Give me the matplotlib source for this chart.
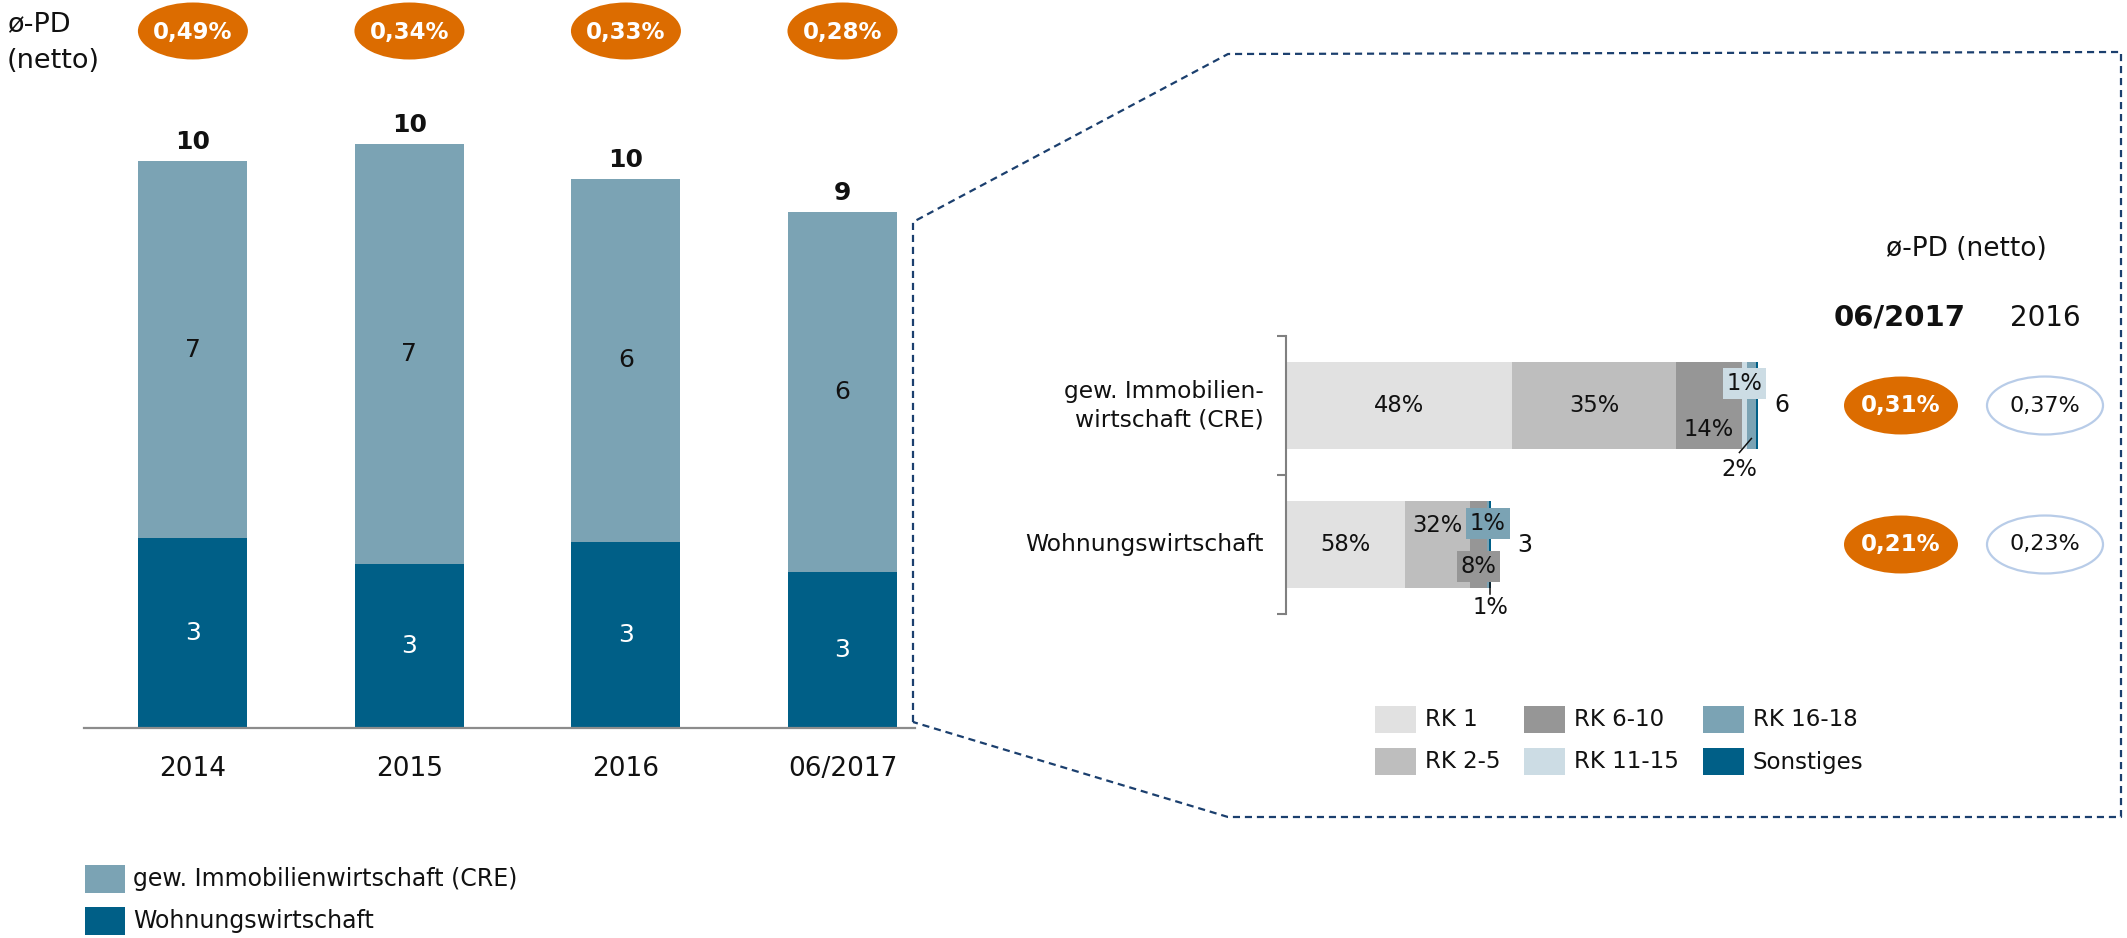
import matplotlib
matplotlib.use('Agg')
import matplotlib.pyplot as plt
from matplotlib.patches import Ellipse, Rectangle
from matplotlib.lines import Line2D
from matplotlib.transforms import blended_transform_factory as blend, IdentityTransform

plt.rcParams['font.family'] = ['DejaVu Sans']

# ---------------- data ----------------
years = ['2014', '2015', '2016', '06/2017']
cre = [6.62, 7.36, 6.38, 6.31]          # gew. Immobilienwirtschaft (CRE), Mrd. €
wohn = [3.33, 2.88, 3.26, 2.74]         # Wohnungswirtschaft, Mrd. €
pd_net = [0.49, 0.34, 0.33, 0.28]       # ø-PD (netto) in %

segments = ['gew. Immobilien-\nwirtschaft (CRE)', 'Wohnungswirtschaft']
rk_classes = ['RK 1', 'RK 2-5', 'RK 6-10', 'RK 11-15', 'RK 16-18', 'Sonstiges']
share_cre = [48, 35, 14, 1, 2, 0.4]
share_wohn = [58, 32, 8, 0, 1, 1]
pd_2017 = [0.31, 0.21]
pd_2016 = [0.37, 0.23]

# ---------------- style ----------------
W, H = 2127, 938
C_CRE = '#7BA3B4'
C_WOHN = '#005F87'
C_ORANGE = '#DC6C00'
C_DASH = '#1B3F6E'
rk_colors = ['#E1E1E1', '#BEBEBE', '#969696', '#CCDCE4', '#7BA3B4', '#005F87']
TXT = '#111111'

fig = plt.figure(figsize=(W / 100, H / 100), dpi=100)
fig.patch.set_facecolor('white')


def fr(x0, y_top, x1, y_bot):
    return [x0 / W, 1 - y_bot / H, (x1 - x0) / W, (y_bot - y_top) / H]


def pct(v):
    return f'{v:.2f}'.replace('.', ',') + '%'


# overlay in pixel coordinates (for decorations)
ov = fig.add_axes([0, 0, 1, 1])
ov.set_xlim(0, W)
ov.set_ylim(H, 0)
ov.axis('off')

# ---------------- left stacked column chart ----------------
ax = fig.add_axes(fr(84, 101, 915, 728))
x = list(range(len(years)))
bw = 0.503
ax.bar(x, wohn, width=bw, color=C_WOHN, zorder=2)
ax.bar(x, cre, width=bw, bottom=wohn, color=C_CRE, zorder=2)
ax.set_xlim(-0.503, 3.335)
ax.set_ylim(0, 11)
for s in ['top', 'right', 'left']:
    ax.spines[s].set_visible(False)
ax.spines['bottom'].set_color('#8C8C8C')
ax.spines['bottom'].set_linewidth(1.6)
ax.set_yticks([])
ax.set_xticks(x)
ax.set_xticklabels(years, fontsize=19, color=TXT)
ax.tick_params(axis='x', length=0, pad=20)
ax.patch.set_alpha(0)

for i in x:
    tot = cre[i] + wohn[i]
    ax.annotate(f'{round(tot)}', xy=(i, tot), xytext=(0, 5), textcoords='offset points',
                ha='center', va='bottom', fontsize=18, fontweight='bold', color=TXT)
    ax.text(i, wohn[i] + cre[i] / 2, f'{round(cre[i])}', ha='center', va='center',
            fontsize=18, color=TXT)
    ax.text(i, wohn[i] / 2, f'{round(wohn[i])}', ha='center', va='center',
            fontsize=18, color='white')

# PD ellipses above the columns
tr_top = blend(ax.transData, ov.transData)
for i in x:
    ov.add_patch(Ellipse((i, 31), width=0.508, height=57, transform=tr_top,
                         facecolor=C_ORANGE, edgecolor='none', clip_on=False))
    ov.text(i, 33, pct(pd_net[i]), transform=tr_top, ha='center', va='center',
            fontsize=16.5, fontweight='bold', color='white', clip_on=False)

ov.text(7, 24, 'ø-PD', ha='left', va='center', fontsize=19.5, color=TXT)
ov.text(7, 61, '(netto)', ha='left', va='center', fontsize=19.5, color=TXT)

# left legend
for k, (lab, col) in enumerate([('gew. Immobilienwirtschaft (CRE)', C_CRE),
                                 ('Wohnungswirtschaft', C_WOHN)]):
    yc = 879 + 42 * k
    ov.add_patch(Rectangle((85, yc - 14), 40, 28, facecolor=col, edgecolor='none'))
    ov.text(133, yc, lab, ha='left', va='center', fontsize=17, color=TXT)

# dashed zoom frame
frame = [(913, 722), (913, 222), (1228, 54), (2121, 52), (2121, 817), (1228, 817), (913, 722)]
ov.add_line(Line2D([p[0] for p in frame], [p[1] for p in frame], color=C_DASH, lw=1.6,
                   linestyle=(0, (3.2, 2.2))))

# ---------------- right horizontal stacked bars ----------------
ax2 = fig.add_axes(fr(1286, 336, 1886, 614))
totals = [cre[-1], wohn[-1]]
shares = [share_cre, share_wohn]
ax2.set_xlim(0, 600 / 74.8)
ax2.set_ylim(1.5, -0.5)
for s in ['top', 'right', 'bottom']:
    ax2.spines[s].set_visible(False)
ax2.spines['left'].set_color('#808080')
ax2.spines['left'].set_linewidth(1.5)
ax2.set_xticks([])
ax2.set_yticks([-0.5, 0.5, 1.5])
ax2.set_yticklabels([])
ax2.tick_params(axis='y', length=6.5, width=1.5, color='#808080')
ax2.patch.set_alpha(0)

bh = 0.633
# label placement relative to segment centre, pixels (dx right, dy down)
place = [
    [('c', 0, 0), ('c', 0, 0), ('c', 0, 24), ('box', 0, -22),
     ('lead', -12, 64, (-12, 47, 0, 33)), None],
    [('c', 0, 0), ('c', 0, -19), ('box', 0, 22), None, ('box', 0, -21),
     ('lead', 1, 63, (0, 39, 0, 50))],
]
tot_dx = [16, 26]
FS = 16.3
for r in range(2):
    tot = totals[r]
    ssum = sum(shares[r])
    left = 0
    for k in range(len(rk_classes)):
        w = tot * shares[r][k] / ssum
        if w > 0:
            ax2.barh(r, w, left=left, height=bh, color=rk_colors[k], zorder=2)
        cx = left + w / 2
        pl = place[r][k]
        if pl is not None and shares[r][k] >= 0.5:
            mode, dx, dy = pl[:3]
            lab = f'{round(shares[r][k])}%'
            kw = dict(xy=(cx, r), xytext=(dx, -dy), textcoords='offset pixels',
                      ha='center', va='center', fontsize=FS, color=TXT, zorder=5)
            if mode == 'box':
                kw['bbox'] = dict(boxstyle='square,pad=0.17', fc=rk_colors[k], ec='none')
            ax2.annotate(lab, **kw)
            if mode == 'lead':
                bx, by = ax2.transData.transform((cx, r))
                x1, y1, x2, y2 = pl[3]
                fig.add_artist(Line2D([bx + x1, bx + x2], [by - y1, by - y2],
                                      transform=IdentityTransform(), color=TXT, lw=1.1,
                                      zorder=6))
        left += w
    ax2.annotate(f'{round(tot)}', xy=(tot, r), xytext=(tot_dx[r], 0), textcoords='offset pixels',
                 ha='left', va='center', fontsize=17, color=TXT)
    ax2.annotate(segments[r], xy=(0, r), xycoords=('axes fraction', 'data'), xytext=(-22, 0),
                 textcoords='offset pixels', ha='right', va='center', ma='right',
                 fontsize=16.8, color=TXT, linespacing=1.3)

# PD columns on the right
tr_r = blend(ov.transData, ax2.transData)
for r in range(2):
    ov.add_patch(Ellipse((1901, r), width=114, height=0.417, transform=tr_r,
                         facecolor=C_ORANGE, edgecolor='none', clip_on=False))
    ov.text(1901, r, pct(pd_2017[r]), transform=tr_r, ha='center', va='center',
            fontsize=16.5, fontweight='bold', color='white', clip_on=False)
    ov.add_patch(Ellipse((2045, r), width=116, height=0.417, transform=tr_r,
                         facecolor='white', edgecolor='#B8CCE8', lw=1.6, clip_on=False))
    ov.text(2045, r, pct(pd_2016[r]), transform=tr_r, ha='center', va='center',
            fontsize=16, color=TXT, clip_on=False)

ov.text(1966, 249, 'ø-PD (netto)', ha='center', va='center', fontsize=19, color=TXT)
ov.text(1900, 318, '06/2017', ha='center', va='center', fontsize=21, fontweight='bold', color=TXT)
ov.text(2045, 318, '2016', ha='center', va='center', fontsize=20, color=TXT)

# right legend
col_x = [1375, 1524, 1703]
row_y = [720, 762]
leg_pos = {0: (0, 0), 1: (0, 1), 2: (1, 0), 3: (1, 1), 4: (2, 0), 5: (2, 1)}
for k, lab in enumerate(rk_classes):
    c, rr = leg_pos[k]
    px, py = col_x[c], row_y[rr]
    ov.add_patch(Rectangle((px, py - 13.5), 41, 27, facecolor=rk_colors[k], edgecolor='none'))
    ov.text(px + 50, py, lab, ha='left', va='center', fontsize=16.5, color=TXT)

fig.savefig('out.png', dpi=100, facecolor='white')
